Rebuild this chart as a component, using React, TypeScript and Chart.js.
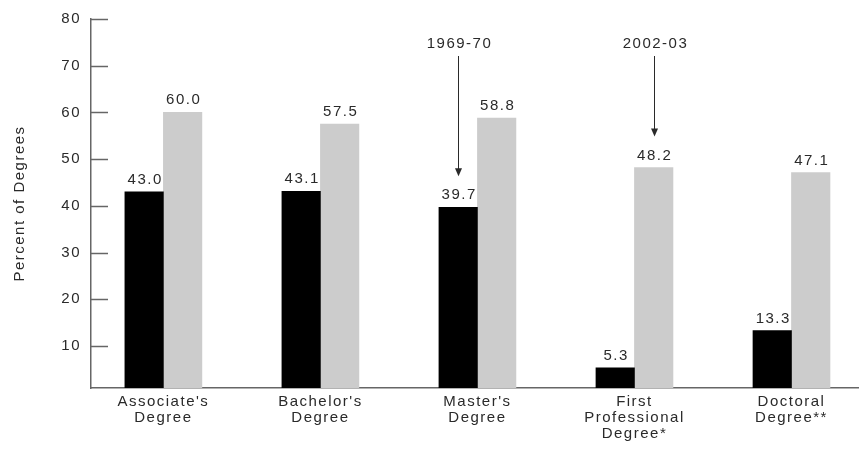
import React, { useEffect, useRef } from 'react';
import { Chart, registerables } from 'chart.js';

Chart.register(...registerables);

const categories: string[][] = [
  ["Associate's", 'Degree'],
  ["Bachelor's", 'Degree'],
  ["Master's", 'Degree'],
  ['First', 'Professional', 'Degree*'],
  ['Doctoral', 'Degree**'],
];
const values1969 = [43.0, 43.1, 39.7, 5.3, 13.3];
const values2002 = [60.0, 57.5, 58.8, 48.2, 47.1];
const seriesLabels = ['1969-70', '2002-03'];
const yTicks = [10, 20, 30, 40, 50, 60, 70, 80];
const arrowTargets = [
  { series: 0, category: 2 },
  { series: 1, category: 3 },
];

const FAMILY = "'Liberation Sans', Arial, sans-serif";
const TEXT = '#2a2a2a';
const AXIS = '#666666';
const SPACING = '1.5px';
const SIZE = 15;

const spacingPlugin = {
  id: 'spacing',
  beforeLayout(chart: any) {
    chart.ctx.letterSpacing = SPACING;
  },
  beforeDraw(chart: any) {
    chart.ctx.letterSpacing = SPACING;
  },
};

const annotatePlugin = {
  id: 'annotate',
  afterDatasetsDraw(chart: any) {
    const ctx = chart.ctx;
    const y = chart.scales.y;
    ctx.save();
    ctx.letterSpacing = SPACING;
    // inward tick marks
    ctx.strokeStyle = AXIS;
    ctx.lineWidth = 1.5;
    y.ticks.forEach((t: any) => {
      const py = Math.round(y.getPixelForValue(t.value)) + 0.5;
      ctx.beginPath();
      ctx.moveTo(y.right, py);
      ctx.lineTo(y.right + 17, py);
      ctx.stroke();
    });
    // value labels
    ctx.lineWidth = 1;
    ctx.font = `${SIZE}px ${FAMILY}`;
    ctx.fillStyle = TEXT;
    ctx.textAlign = 'center';
    ctx.textBaseline = 'alphabetic';
    const all = [values1969, values2002];
    all.forEach((vals, d) => {
      const meta = chart.getDatasetMeta(d);
      meta.data.forEach((el: any, i: number) => {
        ctx.fillText(vals[i].toFixed(1), el.x + 1, el.y - 8);
      });
    });
    // arrows
    ctx.strokeStyle = TEXT;
    arrowTargets.forEach((a) => {
      const el = chart.getDatasetMeta(a.series).data[a.category];
      const x = Math.round(el.x) + 0.5;
      ctx.fillText(seriesLabels[a.series], x + 1, 48);
      const tip = el.y - 31;
      ctx.beginPath();
      ctx.moveTo(x, 56);
      ctx.lineTo(x, tip - 6);
      ctx.stroke();
      ctx.beginPath();
      ctx.moveTo(x - 3.5, tip - 8);
      ctx.lineTo(x + 3.5, tip - 8);
      ctx.lineTo(x, tip);
      ctx.closePath();
      ctx.fill();
    });
    ctx.restore();
  },
};

export default function App() {
  const ref = useRef<HTMLCanvasElement | null>(null);
  useEffect(() => {
    if (!ref.current) return;
    const font = { family: FAMILY, size: SIZE, lineHeight: 1.07 };
    const chart = new Chart(ref.current, {
      type: 'bar',
      data: {
        datasets: [
          {
            label: seriesLabels[0],
            data: values1969.map((v, i) => ({ x: i, y: v })),
            backgroundColor: '#000000',
            barThickness: 38.5,
          },
          {
            label: seriesLabels[1],
            data: values2002.map((v, i) => ({ x: i, y: v })),
            backgroundColor: '#cccccc',
            barThickness: 38.5,
          },
        ],
      } as any,
      options: {
        animation: false,
        responsive: true,
        maintainAspectRatio: false,
        layout: { padding: { top: 10, right: 0, left: 0, bottom: 0 } },
        plugins: { legend: { display: false }, tooltip: { enabled: false } },
        scales: {
          x: {
            type: 'linear',
            offset: false,
            min: -0.461,
            max: 4.43,
            grid: { display: false, drawTicks: false },
            border: { display: true, color: AXIS, width: 1.5 },
            afterBuildTicks: (s: any) => {
              s.ticks = categories.map((_, i) => ({ value: i }));
            },
            afterFit: (s: any) => {
              s.height = 61;
            },
            ticks: {
              autoSkip: false,
              maxRotation: 0,
              padding: 6,
              color: TEXT,
              font,
              callback: (v: any) => categories[v] ?? '',
            },
          },
          y: {
            min: 1,
            max: 80,
            grid: { display: false, drawTicks: false },
            border: { display: true, color: AXIS, width: 1.5 },
            afterBuildTicks: (s: any) => {
              s.ticks = yTicks.map((v) => ({ value: v }));
            },
            afterFit: (s: any) => {
              s.width = 91;
            },
            ticks: { padding: 10, color: TEXT, font: { family: FAMILY, size: SIZE } },
            title: {
              display: true,
              text: 'Percent of Degrees',
              color: TEXT,
              padding: { top: 11, bottom: 0 },
              font: { family: FAMILY, size: SIZE, lineHeight: 1.2 },
            },
          },
        },
      } as any,
      plugins: [spacingPlugin, annotatePlugin],
    });
    return () => chart.destroy();
  }, []);
  return (
    <div style={{ position: 'fixed', left: 0, top: 0, width: 859, height: 449, background: '#fff' }}>
      <canvas ref={ref} />
    </div>
  );
}
